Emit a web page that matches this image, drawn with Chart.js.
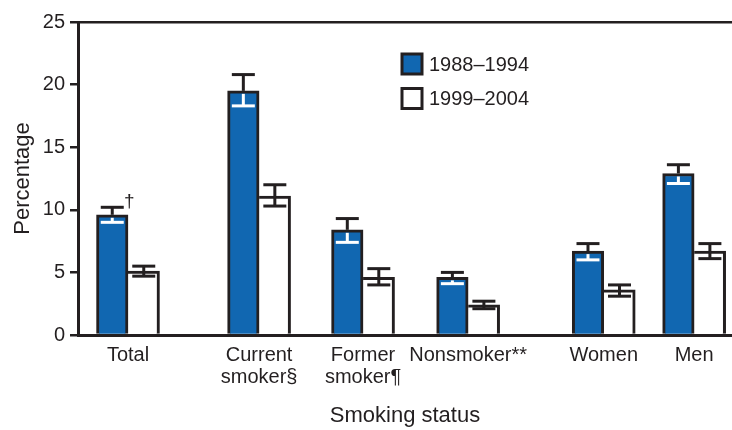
<!DOCTYPE html>
<html>
<head>
<meta charset="utf-8">
<script src="https://cdn.jsdelivr.net/npm/chart.js@4"></script>
<style>
  body { margin: 0; background: #fff; }
  #wrap { width: 732px; height: 430px; }
</style>
</head>
<body>
<div id="wrap"><canvas id="smokingChart" width="732" height="430"></canvas></div>
<script>
// values
var categories = ['Total', ['Current', 'smoker§'], ['Former', 'smoker¶'], 'Nonsmoker**', 'Women', 'Men'];
var categoryAt = [0, 1.16, 2.08, 3.01, 4.21, 5.01];   // groups are not evenly spaced on the axis
var period1 = [9.6, 19.5, 8.4, 4.6, 6.7, 12.9];
var period1Low = [9.0, 18.3, 7.4, 4.1, 6.0, 12.1];
var period1High = [10.2, 20.8, 9.3, 5.0, 7.3, 13.6];
var period2 = [5.1, 11.1, 4.6, 2.4, 3.6, 6.7];
var period2Low = [4.7, 10.3, 4.0, 2.1, 3.1, 6.1];
var period2High = [5.5, 12.0, 5.3, 2.7, 4.0, 7.3];
var period1Notes = ['†', '', '', '', '', ''];
var yTicks = [0, 5, 10, 15, 20, 25];

var dark = '#231f20';
var blue = '#1167b1';
var font = '"Liberation Sans", Arial, Helvetica, sans-serif';

function points(values) {
    return values.map(function (v, i) { return { x: categoryAt[i], y: v }; });
}

function seg(ctx, x1, y1, x2, y2, color) {
    ctx.strokeStyle = color;
    ctx.beginPath();
    ctx.moveTo(x1, y1);
    ctx.lineTo(x2, y2);
    ctx.stroke();
}

var errorBars = {
    id: 'errorBars',
    afterDatasetsDraw: function (chart) {
        var ctx = chart.ctx;
        var y = chart.scales.y;
        var half = 11.5;
        chart.data.datasets.forEach(function (ds, di) {
            chart.getDatasetMeta(di).data.forEach(function (bar, i) {
                var hi = y.getPixelForValue(ds.errHigh[i]);
                var lo = y.getPixelForValue(ds.errLow[i]);
                ctx.save();
                ctx.lineWidth = 3;
                ctx.lineCap = 'butt';
                if (ds.filled) {
                    seg(ctx, bar.x, bar.y, bar.x, hi, dark);
                    seg(ctx, bar.x - half, hi, bar.x + half, hi, dark);
                    seg(ctx, bar.x, bar.y + 3, bar.x, lo, '#ffffff');
                    seg(ctx, bar.x - half, lo, bar.x + half, lo, '#ffffff');
                } else {
                    seg(ctx, bar.x, lo, bar.x, hi, dark);
                    seg(ctx, bar.x - half, hi, bar.x + half, hi, dark);
                    seg(ctx, bar.x - half, lo, bar.x + half, lo, dark);
                }
                if (ds.notes && ds.notes[i]) {
                    ctx.fillStyle = dark;
                    ctx.font = '19px ' + font;
                    ctx.textAlign = 'center';
                    ctx.textBaseline = 'alphabetic';
                    ctx.fillText(ds.notes[i], bar.x + 17, hi);
                }
                ctx.restore();
            });
        });
    }
};

var boxLegend = {
    id: 'boxLegend',
    afterDraw: function (chart) {
        var ctx = chart.ctx;
        var left = chart.chartArea.left + 324;
        var top = 54;
        ctx.save();
        chart.data.datasets.forEach(function (ds, i) {
            var by = top + i * 34.5;
            ctx.fillStyle = ds.backgroundColor;
            ctx.fillRect(left, by, 20, 20);
            ctx.lineWidth = 3;
            ctx.strokeStyle = dark;
            ctx.strokeRect(left, by, 20, 20);
            ctx.fillStyle = dark;
            ctx.font = '20px ' + font;
            ctx.textAlign = 'left';
            ctx.textBaseline = 'middle';
            ctx.fillText(ds.label, left + 27, by + 11);
        });
        ctx.restore();
    }
};

var ctx = document.getElementById('smokingChart').getContext('2d');
new Chart(ctx, {
    type: 'bar',
    data: {
        datasets: [{
            label: '1988–1994',
            data: points(period1),
            errLow: period1Low,
            errHigh: period1High,
            notes: period1Notes,
            filled: true,
            backgroundColor: blue,
            borderColor: dark,
            borderWidth: { top: 3, left: 3, right: 3, bottom: 0 },
            borderSkipped: 'start',
            barThickness: 31.5
        }, {
            label: '1999–2004',
            data: points(period2),
            errLow: period2Low,
            errHigh: period2High,
            filled: false,
            backgroundColor: '#ffffff',
            borderColor: dark,
            borderWidth: { top: 3, left: 0, right: 3, bottom: 0 },
            borderSkipped: 'start',
            barThickness: 31.5
        }]
    },
    options: {
        responsive: false,
        animation: false,
        layout: { padding: { top: 22, left: 0, right: 0, bottom: 0 } },
        plugins: {
            legend: { display: false },
            tooltip: { enabled: false }
        },
        scales: {
            x: {
                type: 'linear',
                offset: false,
                min: -0.4425,
                max: 5.345,
                afterBuildTicks: function (scale) {
                    scale.ticks = categoryAt.map(function (v) { return { value: v }; });
                },
                afterFit: function (scale) { scale.height = 95; },
                grid: { display: false, drawTicks: false },
                border: { display: true, color: dark, width: 3 },
                ticks: {
                    autoSkip: false,
                    maxRotation: 0,
                    padding: 9,
                    color: dark,
                    font: { family: font, size: 20, lineHeight: 1.1 },
                    callback: function (value, index) { return categories[index]; }
                },
                title: {
                    display: true,
                    text: 'Smoking status',
                    color: dark,
                    font: { family: font, size: 22 },
                    padding: { top: 0, bottom: 1 }
                }
            },
            y: {
                min: 0,
                max: 25,
                afterBuildTicks: function (scale) {
                    scale.ticks = yTicks.map(function (v) { return { value: v }; });
                },
                afterFit: function (scale) { scale.width = 78; },
                grid: {
                    color: function (c) { return c.tick && c.tick.value === 25 ? dark : 'rgba(0,0,0,0)'; },
                    lineWidth: 2.5,
                    tickColor: dark,
                    tickWidth: 2.5,
                    tickLength: 8
                },
                border: { display: true, color: dark, width: 3 },
                ticks: {
                    padding: 5,
                    color: dark,
                    font: { family: font, size: 20 }
                },
                title: {
                    display: true,
                    text: 'Percentage',
                    color: dark,
                    font: { family: font, size: 22 },
                    padding: { top: 10, bottom: 0 }
                }
            }
        }
    },
    plugins: [errorBars, boxLegend]
});
</script>
</body>
</html>
